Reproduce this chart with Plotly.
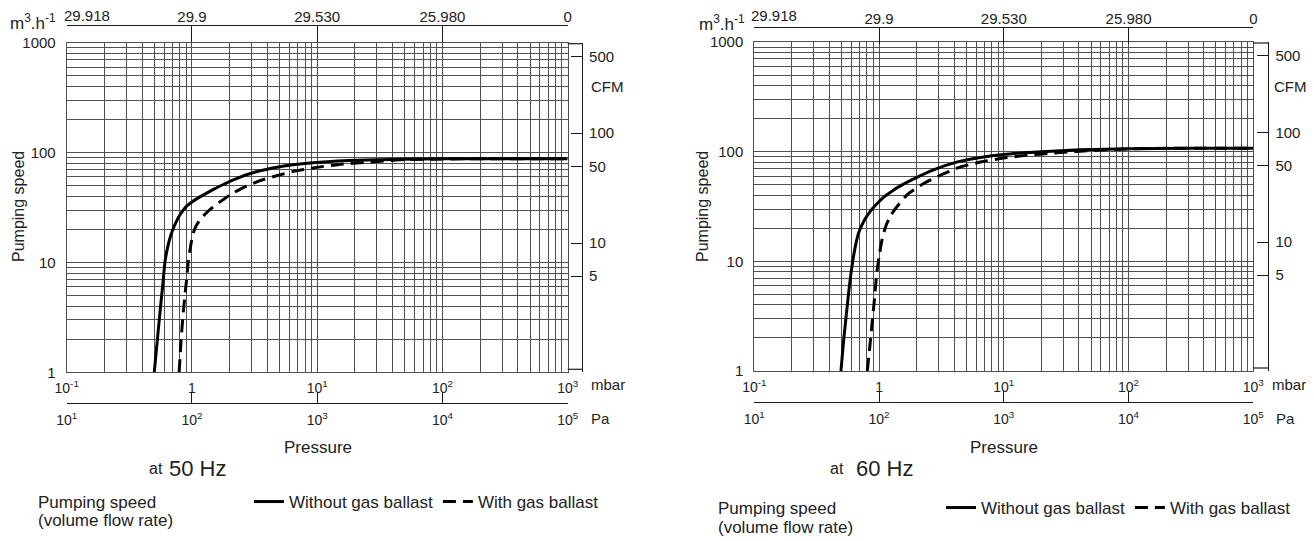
import math
import plotly.graph_objects as go

# ---------------- data ----------------
mbar_ticks = [0.1, 1, 10, 100, 1000]
mbar_labels = ['10<sup>-1</sup>', '1', '10<sup>1</sup>', '10<sup>2</sup>', '10<sup>3</sup>']
pa_ticks = [10, 100, 1000, 10000, 100000]
pa_labels = ['10<sup>1</sup>', '10<sup>2</sup>', '10<sup>3</sup>', '10<sup>4</sup>', '10<sup>5</sup>']
inhg_labels = ['29.918', '29.9', '29.530', '25.980', '0']
speed_ticks = [1, 10, 100, 1000]
speed_labels = ['1', '10', '100', '1000']
cfm_ticks = [5, 10, 50, 100, 500]
cfm_labels = ['5', '10', '50', '100', '500']
CFM_FACTOR = 1.5  # m3/h per CFM as drawn on the reference scale

series_names = ['Without gas ballast', 'With gas ballast']
freq_labels = ['50 Hz', '60 Hz']

# 50 Hz
p50_solid = [0.50, 0.53, 0.556, 0.585, 0.61, 0.64, 0.668, 0.70, 0.74, 0.80, 0.86, 0.92, 1.0, 1.09, 1.3, 1.5, 1.8, 2.14, 3.2, 5.05, 7.0, 10.5, 20, 45.7, 100, 300, 1000]
s50_solid = [1.0, 2.0, 3.55, 6.3, 10.2, 13.8, 16.7, 19.6, 22.8, 27.0, 30.3, 33.0, 35.5, 37.9, 42.5, 46.5, 51.5, 56.5, 66.5, 74.4, 78.3, 81.5, 85, 86.9, 87.8, 88, 88]
p50_dash = [0.79, 0.82, 0.853, 0.90, 0.935, 0.98, 1.026, 1.08, 1.16, 1.3, 1.48, 1.7, 2.0, 2.57, 3.5, 4.75, 6.5, 9.9, 15, 24.8, 45.7, 100, 200, 1000]
s50_dash = [1.0, 2.0, 3.55, 6.5, 10.2, 14.5, 18.6, 21.6, 24.4, 28.2, 32.0, 36.0, 41.0, 48.0, 55.5, 61.5, 67.5, 73.3, 78.0, 81.5, 85.9, 87.3, 88, 88]

# 60 Hz
p60_solid = [0.495, 0.52, 0.55, 0.575, 0.604, 0.64, 0.68, 0.72, 0.77, 0.82, 0.88, 0.95, 1.08, 1.25, 1.4, 1.88, 2.8, 4.19, 6.5, 9.9, 20, 40.8, 100, 300, 1000]
s60_solid = [1.0, 1.9, 3.5, 5.6, 8.7, 13.0, 17.6, 20.8, 24.2, 27.0, 30.0, 33.0, 38.1, 43.0, 47.0, 56.2, 69, 80.3, 88.5, 94.4, 100, 104, 106.5, 107.5, 107.5]
p60_dash = [0.805, 0.84, 0.873, 0.92, 0.957, 1.0, 1.05, 1.1, 1.15, 1.25, 1.38, 1.7, 2.26, 3.2, 4.46, 6.5, 9.9, 15, 24.9, 40.8, 70, 150, 1000]
s60_dash = [1.0, 1.6, 2.5, 4.6, 7.65, 11, 15.2, 18.8, 21.9, 26.5, 31.1, 41, 51, 62, 72.3, 80.5, 87.4, 92.5, 97, 101, 104.5, 107, 107.5]

# ---------------- layout helpers ----------------
WIN_W, WIN_H = 1314, 541
OFF = 8  # default page margin of the browser body
W, H = WIN_W - OFF, WIN_H - OFF
FONT = 'Liberation Sans, Arial, Helvetica, sans-serif'
TXT = '#222222'
GRID = '#505050'
AX = '#1a1a1a'


def fx(x):
    return (x - OFF) / W


def fy(y):
    return 1 - (y - OFF) / H


minor_x = [m * 10 ** e for e in range(-1, 3) for m in range(2, 10)]
minor_y = [m * 10 ** e for e in range(0, 3) for m in range(2, 10)]

panels = [
    dict(x0=66.7, x1=567.7, top=42.7, bot=372.3, cfm_x=582, top_y=25, pa_y=402.7,
         unit=(8, 21.5), ytitle=(18, 207), cfm_lab=(589, 86), mbar_lab=(589, 384), pa_lab=(589, 418),
         pressure=(318, 447), at=(147, 468), hz=(167, 468), ps1=(36, 502), ps2=(36, 520),
         legend=(249, 484), axes=('x', 'y', 'x2', 'x3', 'y2'), legend_key='legend',
         data=(p50_solid, s50_solid, p50_dash, s50_dash)),
    dict(x0=754.3, x1=1253.3, top=42, bot=371, cfm_x=1268.3, top_y=26.7, pa_y=402,
         unit=(697, 23), ytitle=(702, 207), cfm_lab=(1272, 87), mbar_lab=(1270, 384), pa_lab=(1274, 418),
         pressure=(1004, 447), at=(828, 468), hz=(854, 468), ps1=(716, 508), ps2=(716, 527),
         legend=(941, 490), axes=('x4', 'y3', 'x5', 'x6', 'y4'), legend_key='legend2',
         data=(p60_solid, s60_solid, p60_dash, s60_dash)),
]


def lay(k):
    return k[0].replace('x', 'xaxis').replace('y', 'yaxis') + k[1:]


fig = go.Figure()
layout = dict(
    width=W, height=H, margin=dict(l=0, r=0, t=0, b=0, autoexpand=False),
    paper_bgcolor='white', plot_bgcolor='white',
    font=dict(family=FONT, color=TXT, size=15),
    annotations=[], shapes=[], showlegend=True,
)

for i, P in enumerate(panels):
    xk, yk, topk, pak, cfmk = P['axes']
    ps, ss, pdsh, sdsh = P['data']
    fig.add_trace(go.Scatter(x=ps, y=ss, xaxis=xk, yaxis=yk, mode='lines', name=series_names[0],
                             line=dict(color='black', width=3, shape='spline', smoothing=0.6),
                             legend=P['legend_key'], hoverinfo='skip'))
    fig.add_trace(go.Scatter(x=pdsh, y=sdsh, xaxis=xk, yaxis=yk, mode='lines', name=series_names[1],
                             line=dict(color='black', width=3, dash='13px,7px', shape='spline',
                                       smoothing=0.6),
                             legend=P['legend_key'], hoverinfo='skip'))
    # empty traces so that the secondary scales (inHg, Pa, CFM) are drawn
    fig.add_trace(go.Scatter(x=[], y=[], xaxis=topk, yaxis=yk, showlegend=False, hoverinfo='skip'))
    fig.add_trace(go.Scatter(x=[], y=[], xaxis=pak, yaxis=yk, showlegend=False, hoverinfo='skip'))
    fig.add_trace(go.Scatter(x=[], y=[], xaxis=xk, yaxis=cfmk, showlegend=False, hoverinfo='skip'))

    grid_common = dict(showgrid=True, gridcolor=GRID, gridwidth=0.9, zeroline=False,
                       showline=True, mirror=True, linecolor=GRID, linewidth=1, ticks='',
                       fixedrange=True, automargin=False)
    layout[lay(xk)] = dict(type='log', range=[-1, 3], domain=[fx(P['x0']), fx(P['x1'])], anchor=yk,
                           tickmode='array', tickvals=mbar_ticks, ticktext=mbar_labels,
                           tickfont=dict(size=14), ticklabelstandoff=3,
                           minor=dict(tickmode='array', tickvals=minor_x, showgrid=True,
                                      gridcolor=GRID, gridwidth=0.9, ticks=''),
                           **grid_common)
    layout[lay(yk)] = dict(type='log', range=[0, 3], domain=[fy(P['bot']), fy(P['top'])], anchor=xk,
                           tickmode='array', tickvals=speed_ticks, ticktext=speed_labels,
                           tickfont=dict(size=15), ticklabelstandoff=7,
                           minor=dict(tickmode='array', tickvals=minor_y, showgrid=True,
                                      gridcolor=GRID, gridwidth=0.9, ticks=''),
                           **grid_common)
    layout[lay(topk)] = dict(type='log', range=[-1, 3], overlaying=xk, anchor='free',
                             position=fy(P['top_y']), side='top', tickmode='array',
                             tickvals=mbar_ticks, ticktext=[''] + inhg_labels[1:],
                             ticks='inside', ticklen=16, tickwidth=1.2, tickcolor=AX,
                             showline=True, linecolor=AX, linewidth=1.2, showgrid=False,
                             zeroline=False, tickfont=dict(size=15), ticklabelstandoff=-3,
                             fixedrange=True, automargin=False)
    layout[lay(pak)] = dict(type='log', range=[1, 5], overlaying=xk, anchor='free',
                            position=fy(P['pa_y']), side='bottom', tickmode='array',
                            tickvals=pa_ticks, ticktext=pa_labels,
                            ticks='inside', ticklen=11, tickwidth=1.2, tickcolor=AX,
                            showline=True, linecolor=AX, linewidth=1.2, showgrid=False,
                            zeroline=False, tickfont=dict(size=14), ticklabelstandoff=4,
                            fixedrange=True, automargin=False)
    layout[lay(cfmk)] = dict(type='log',
                             range=[math.log10(1 / CFM_FACTOR), math.log10(1000 / CFM_FACTOR)],
                             overlaying=yk, anchor='free', position=fx(P['cfm_x']), side='right',
                             tickmode='array', tickvals=cfm_ticks, ticktext=cfm_labels,
                             ticks='inside', ticklen=11, tickwidth=1.2, tickcolor=AX,
                             showline=True, linecolor=AX, linewidth=1.2, showgrid=False,
                             zeroline=False, tickfont=dict(size=15), ticklabelstandoff=3,
                             fixedrange=True, automargin=False)

    # bracket ends of the CFM scale
    for yy in (P['top'] + 1, P['bot'] - 3):
        layout['shapes'].append(dict(type='line', xref='paper', yref='paper',
                                     x0=fx(P['x1']), x1=fx(P['cfm_x']), y0=fy(yy), y1=fy(yy),
                                     line=dict(color=AX, width=1.2)))

    # legend
    layout[P['legend_key']] = dict(orientation='h', x=fx(P['legend'][0]), y=fy(P['legend'][1]),
                                   xanchor='left', yanchor='top', bgcolor='rgba(0,0,0,0)',
                                   font=dict(size=17, color=TXT, family=FONT),
                                   itemwidth=30, tracegroupgap=0)

    def ann(text, xy, size=17, xanchor='left', **kw):
        layout['annotations'].append(dict(text=text, xref='paper', yref='paper',
                                          x=fx(xy[0]), y=fy(xy[1]), xanchor=xanchor, yanchor='middle',
                                          showarrow=False, font=dict(size=size, color=TXT, family=FONT),
                                          **kw))

    # first top label (left-aligned at the axis start)
    layout['annotations'].append(dict(text=inhg_labels[0], xref=xk, yref='paper', x=-1, xshift=-5,
                                      y=fy(16), xanchor='left', yanchor='middle', showarrow=False,
                                      font=dict(size=15, color=TXT, family=FONT)))
    ann('m<sup>3</sup>.h<sup>-1</sup>', P['unit'], size=17)
    ann('Pumping speed', P['ytitle'], size=16, xanchor='center', textangle=-90)
    ann('CFM', P['cfm_lab'], size=15)
    ann('mbar', P['mbar_lab'], size=15)
    ann('Pa', P['pa_lab'], size=15)
    ann('Pressure', P['pressure'], size=17, xanchor='center')
    ann('at', P['at'], size=16)
    ann(freq_labels[i], P['hz'], size=22)
    ann('Pumping speed', P['ps1'], size=17)
    ann('(volume flow rate)', P['ps2'], size=17)

fig.update_layout(**layout)
fig.write_html("out.html")
